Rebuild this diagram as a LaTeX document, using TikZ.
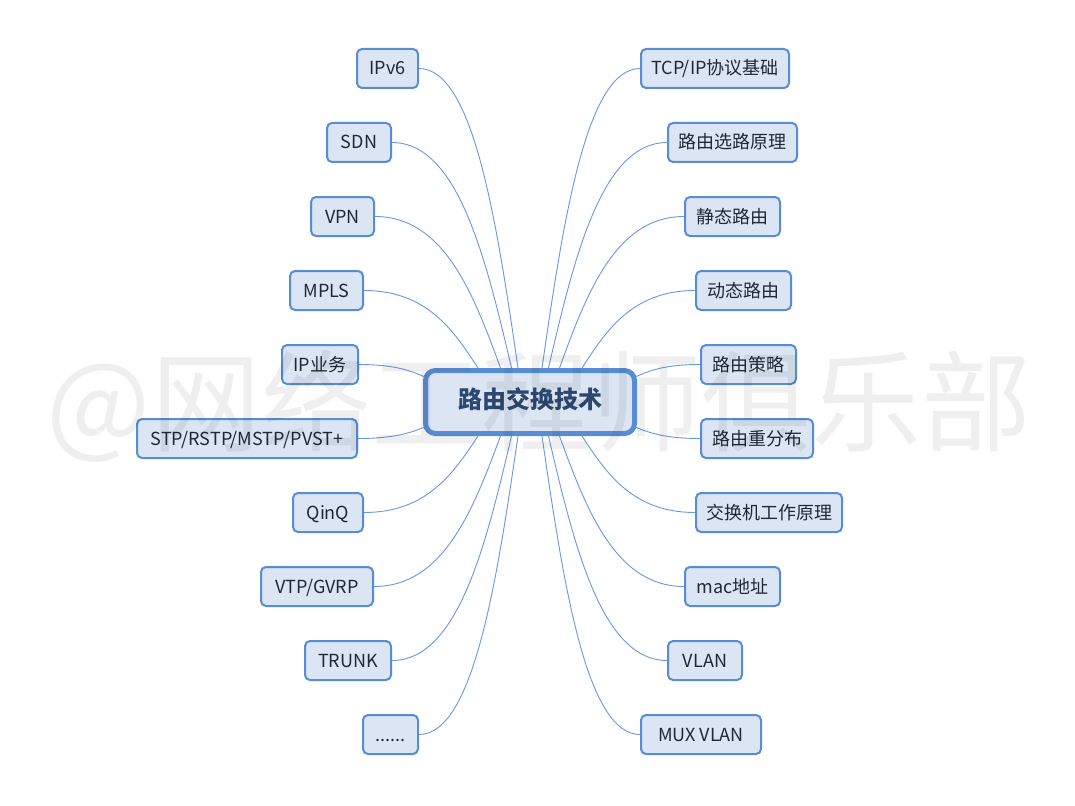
\documentclass[tikz,border=0pt]{standalone}
\usepackage{fontspec}
\setmainfont{Noto Sans CJK SC}
\usetikzlibrary{calc,backgrounds}
\definecolor{boxfill}{RGB}{219,229,243}
\definecolor{boxline}{RGB}{88,141,212}
\definecolor{connc}{RGB}{104,153,222}
\definecolor{leaftext}{RGB}{30,40,55}
\definecolor{roottext}{RGB}{44,72,112}
\newcommand\linkcurve[2]{%
  \draw[conn] let \p1=(#1), \p2=(#2) in
    (\p1) .. controls ({\x1-0.216*(\x1-\x2)},{\y1-0.49*(\y1-\y2)}) and ({\x2+0.55*(\x1-\x2)},{\y2}) .. (\p2);}
\begin{document}
\begin{tikzpicture}[x=1pt,y=-1pt,
 leaf/.style={draw=boxline, line width=2pt, fill=boxfill, rounded corners=5pt, minimum height=39pt, inner sep=0pt, text=leaftext, font=\fontsize{18}{21}\selectfont, text height=1.4em, text depth=0.1em},
 root/.style={draw=boxline, line width=5pt, fill=boxfill, rounded corners=10pt, minimum width=209pt, minimum height=63pt, inner sep=0pt, text=roottext, font=\fontsize{24}{28}\selectfont\bfseries, text height=1.45em, text depth=0.1em},
 conn/.style={draw=connc, line width=0.9pt},
 wm/.style={text=black, opacity=0.062, font=\fontsize{110}{120}\selectfont, inner sep=0pt}
]
\useasboundingbox (0,0) rectangle (1075,805);
% central node
\node[root] (c) at (530,402) {路由交换技术};
% left leaves
\node[leaf, minimum width=61pt]  (ipv6)  at (387.5,68.5) {IPv6};
\node[leaf, minimum width=64pt]  (sdn)   at (359,142.5) {SDN};
\node[leaf, minimum width=63pt]  (vpn)   at (342.5,216.5) {VPN};
\node[leaf, minimum width=73pt]  (mpls)  at (326.5,290.5) {MPLS};
\node[leaf, minimum width=76pt]  (ipsvc) at (320,364.5) {IP业务};
\node[leaf, minimum width=220pt] (stp)   at (247,438.5) {STP/RSTP/MSTP/PVST+};
\node[leaf, minimum width=70pt]  (qinq)  at (328,512.5) {QinQ};
\node[leaf, minimum width=112pt] (vtp)   at (317,586.5) {VTP/GVRP};
\node[leaf, minimum width=86pt]  (trunk) at (348,660.5) {TRUNK};
\node[leaf, minimum width=55pt]  (more)  at (390.5,734.5) {......};
% right leaves
\node[leaf, minimum width=148pt] (tcp)    at (715,68.5) {TCP/IP协议基础};
\node[leaf, minimum width=129pt] (sel)    at (732.5,142.5) {路由选路原理};
\node[leaf, minimum width=95pt]  (static) at (732.5,216.5) {静态路由};
\node[leaf, minimum width=95pt]  (dyn)    at (743.5,290.5) {动态路由};
\node[leaf, minimum width=95pt]  (policy) at (748.5,364.5) {路由策略};
\node[leaf, minimum width=112pt] (redis)  at (757,438.5) {路由重分布};
\node[leaf, minimum width=146pt] (swp)    at (769,512.5) {交换机工作原理};
\node[leaf, minimum width=95pt]  (mac)    at (732.5,586.5) {mac地址};
\node[leaf, minimum width=74pt]  (vlan)   at (705,660.5) {VLAN};
\node[leaf, minimum width=120pt] (mux)    at (701,734.5) {MUX VLAN};
% start points on the central node
\coordinate (s-ipv6)  at ($(c.north)+(-12,0)$);
\coordinate (s-sdn)   at ($(c.north)+(-18.5,0)$);
\coordinate (s-vpn)   at ($(c.north)+(-29.5,0)$);
\coordinate (s-mpls)  at ($(c.north)+(-52,0)$);
\coordinate (s-ipsvc) at ($(c.west)+(2,-25)$);
\coordinate (s-stp)   at ($(c.west)+(2,25)$);
\coordinate (s-qinq)  at ($(c.south)+(-52,0)$);
\coordinate (s-vtp)   at ($(c.south)+(-29.5,0)$);
\coordinate (s-trunk) at ($(c.south)+(-18.5,0)$);
\coordinate (s-more)  at ($(c.south)+(-12,0)$);
\coordinate (s-tcp)    at ($(c.north)+(12,0)$);
\coordinate (s-sel)    at ($(c.north)+(18.5,0)$);
\coordinate (s-static) at ($(c.north)+(29.5,0)$);
\coordinate (s-dyn)    at ($(c.north)+(52,0)$);
\coordinate (s-policy) at ($(c.east)+(-2,-25)$);
\coordinate (s-redis)  at ($(c.east)+(-2,25)$);
\coordinate (s-swp)    at ($(c.south)+(52,0)$);
\coordinate (s-mac)    at ($(c.south)+(29.5,0)$);
\coordinate (s-vlan)   at ($(c.south)+(18.5,0)$);
\coordinate (s-mux)    at ($(c.south)+(12,0)$);
\begin{scope}[on background layer]
  \fill[white] (0,0) rectangle (1075,805);
  \foreach \nm in {ipv6,sdn,vpn,mpls,ipsvc,stp,qinq,vtp,trunk,more}{\linkcurve{s-\nm}{\nm.east}}
  \foreach \nm in {tcp,sel,static,dyn,policy,redis,swp,mac,vlan,mux}{\linkcurve{s-\nm}{\nm.west}}
\end{scope}
% watermark
\node[wm, anchor=base] (wmk) at (539,443) {@网络工程师俱乐部};
\end{tikzpicture}
\end{document}
